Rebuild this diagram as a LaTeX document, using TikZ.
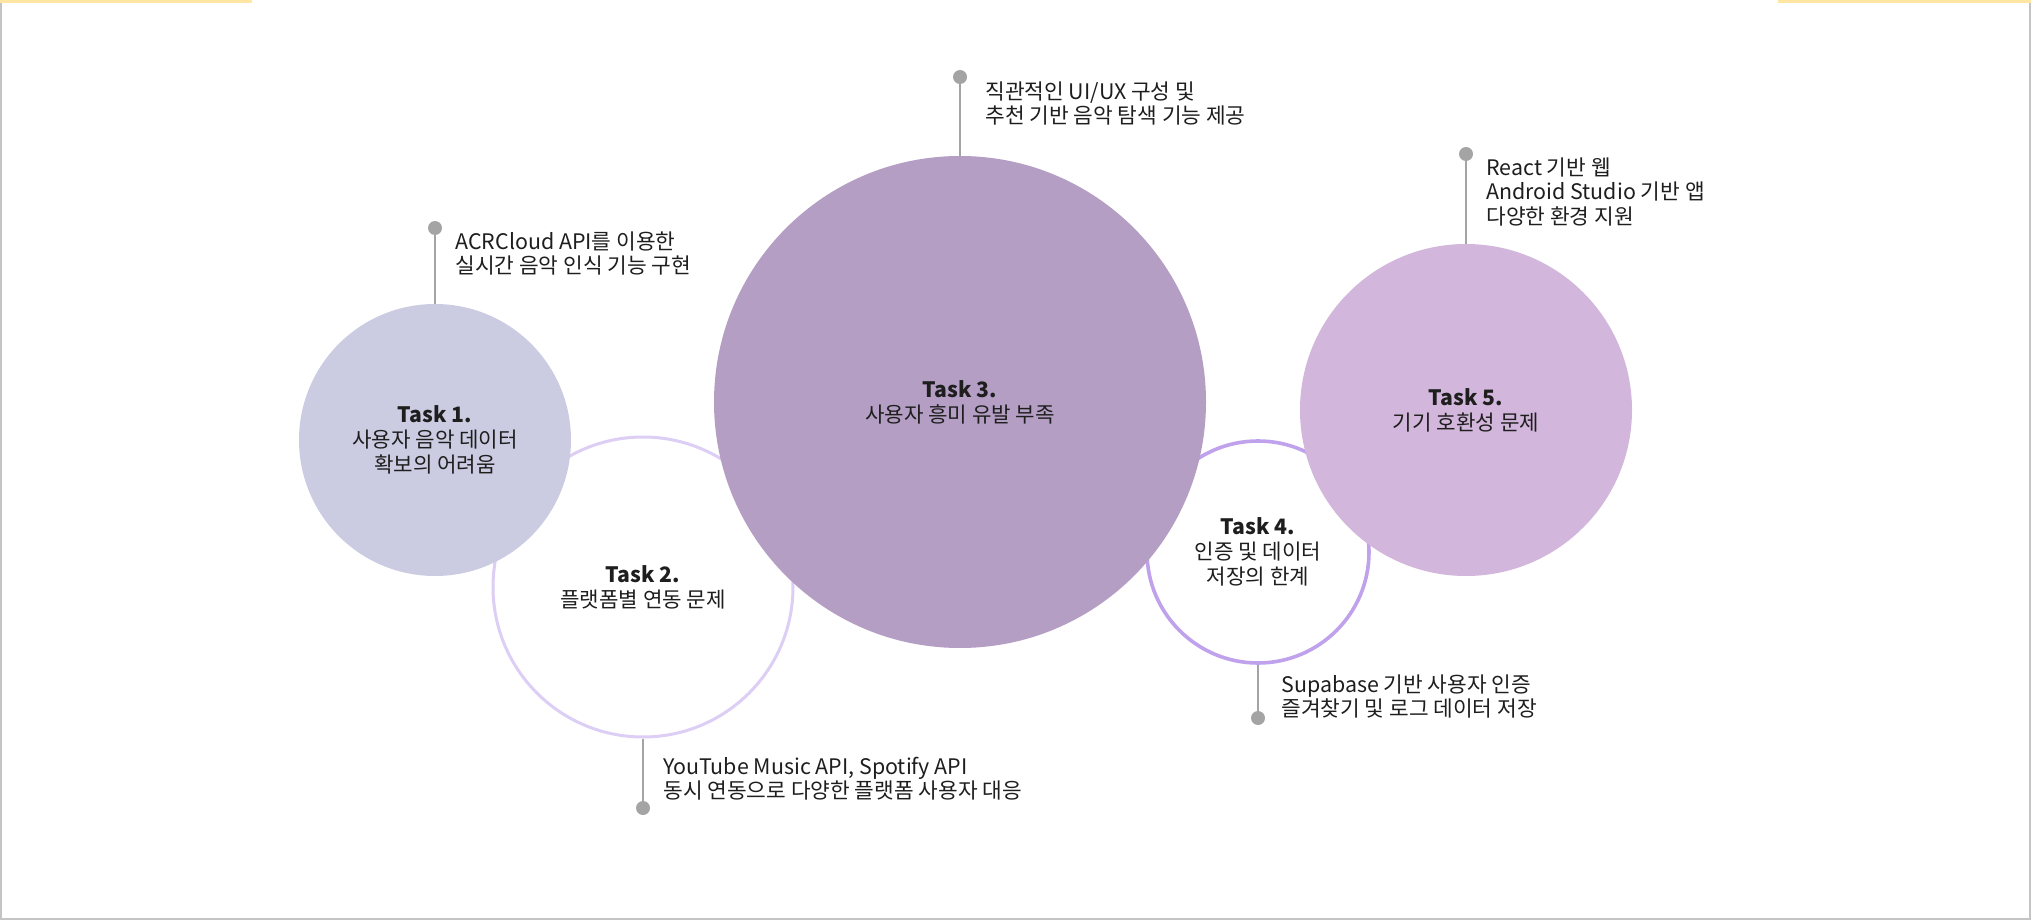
\documentclass[tikz,border=0pt]{standalone}
\usepackage{fontspec}
\setmainfont{Noto Sans CJK KR}
\usetikzlibrary{positioning}
\definecolor{tkone}{HTML}{CBCCE1}
\definecolor{tktwo}{HTML}{DCCEF4}
\definecolor{tkthree}{HTML}{B49EC4}
\definecolor{tkfour}{HTML}{BFA2EB}
\definecolor{tkfive}{HTML}{D2B6DB}
\definecolor{tkpin}{HTML}{A4A4A4}
\definecolor{tktext}{HTML}{1E1E1E}
\definecolor{tkframe}{HTML}{C4C4C4}
\definecolor{tkyellow}{HTML}{FFE7A3}

\begin{document}
\begin{tikzpicture}[x=0.5pt,y=-0.5pt,
  task/.style={circle,inner sep=0pt,align=center,text=tktext,font=\fontsize{10.6}{12.5}\selectfont},
  ring/.style={task,draw,fill=white},
  pin/.style={circle,fill=tkpin,inner sep=0pt,minimum size=7pt},
  stem/.style={draw=tkpin,line width=1.4pt},
  note/.style={inner sep=0pt,align=left,text=tktext,font=\fontsize{10.7}{12.3}\selectfont}]
  \useasboundingbox (0,0) rectangle (2031,920);
  \draw[tkframe,line width=0.8pt] (1,0) -- (1,919) -- (2030,919) -- (2030,0);
  \draw[tkyellow,line width=1.6pt] (0,1.5) -- (252,1.5);
  \draw[tkyellow,line width=1.6pt] (1778,1.5) -- (2031,1.5);
  \node[ring,draw=tktwo,line width=1.5pt,minimum size=150pt] (t2) at (643,587) {\textbf{Task 2.}\\플랫폼별 연동 문제};
  \node[ring,draw=tkfour,line width=1.8pt,minimum size=111pt] (t4) at (1258,552) {\textbf{Task 4.}\\인증 및 데이터\\저장의 한계};
  \node[task,fill=tkone,minimum size=136pt] (t1) at (435,440) {\textbf{Task 1.}\\사용자 음악 데이터\\확보의 어려움};
  \node[task,fill=tkthree,minimum size=246pt] (t3) at (960,402) {\textbf{Task 3.}\\사용자 흥미 유발 부족};
  \node[task,fill=tkfive,minimum size=166pt] (t5) at (1466,410) {\textbf{Task 5.}\\기기 호환성 문제};
  \node[pin] (p1) at (435,228) {};
  \node[pin] (p2) at (643,808) {};
  \node[pin] (p3) at (960,77) {};
  \node[pin] (p4) at (1258,718) {};
  \node[pin] (p5) at (1466,154) {};
  \draw[stem] (t1.north) -- (p1);
  \draw[stem] (t2.south) -- (p2);
  \draw[stem] (t3.north) -- (p3);
  \draw[stem] (t4.south) -- (p4);
  \draw[stem] (t5.north) -- (p5);
  \node[note,anchor=north west] (n1) at (455,231) {ACRCloud API를 이용한\\실시간 음악 인식 기능 구현};
  \node[note,anchor=south west] (n2) at (663,801) {YouTube Music API, Spotify API\\동시 연동으로 다양한 플랫폼 사용자 대응};
  \node[note,anchor=north west] (n3) at (985,81) {직관적인 UI/UX 구성 및\\추천 기반 음악 탐색 기능 제공};
  \node[note,anchor=south west] (n4) at (1281,719) {Supabase 기반 사용자 인증\\즐겨찾기 및 로그 데이터 저장};
  \node[note,anchor=north west] (n5) at (1486,157) {React 기반 웹\\Android Studio 기반 앱\\다양한 환경 지원};
\end{tikzpicture}
\end{document}
